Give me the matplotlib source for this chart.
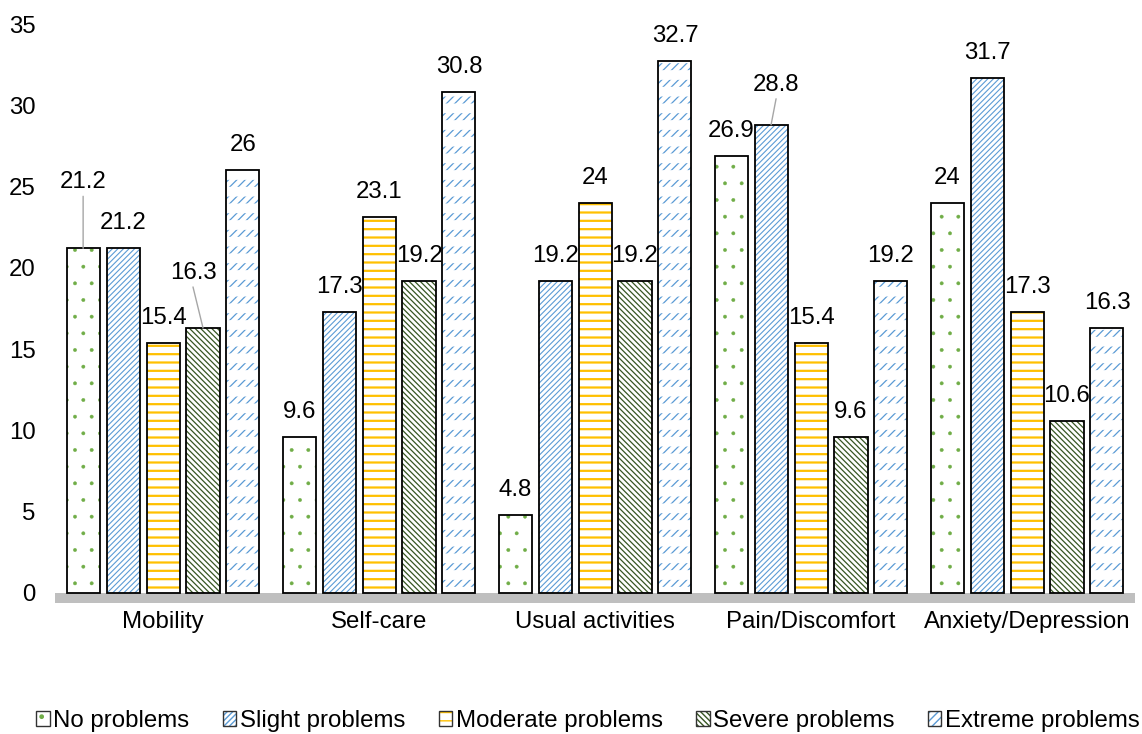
import matplotlib
matplotlib.use("Agg")

import matplotlib.pyplot as plt
import numpy as np
from matplotlib.patches import Patch
from matplotlib.legend_handler import HandlerTuple

plt.rcParams["font.family"] = ["Liberation Sans", "DejaVu Sans"]

categories = ["Mobility", "Self-care", "Usual activities", "Pain/Discomfort", "Anxiety/Depression"]
series_names = ["No problems", "Slight problems", "Moderate problems", "Severe problems", "Extreme problems"]
no_problems = [21.2, 9.6, 4.8, 26.9, 24]
slight_problems = [21.2, 17.3, 19.2, 28.8, 31.7]
moderate_problems = [15.4, 23.1, 24, 15.4, 17.3]
severe_problems = [16.3, 19.2, 19.2, 9.6, 10.6]
extreme_problems = [26, 30.8, 32.7, 19.2, 16.3]
series_values = [no_problems, slight_problems, moderate_problems, severe_problems, extreme_problems]

# hatch style per series: (hatch colour, hatch, hatch linewidth)
styles = [
    ("#70AD47", ".", 0.3),
    ("#5B9BD5", "//////", 0.8),
    ("#FFC000", "--", 1.6),
    ("#375623", "\\" * 6, 0.9),
    ("#5B9BD5", "////", 0.9),
]

# label offsets in pixels (dx, dy of label centre above bar top) where they differ from default
DEFAULT_DY = 25
label_offsets = {
    (0, 0): (0, 66),
    (3, 0): (-10, 55),
    (1, 3): (5, 40),
}
leaders = {(0, 0), (3, 0), (1, 3)}

fig = plt.figure(figsize=(11.42, 7.34), dpi=100)
ax = fig.add_axes([0.0482, 0.1785, 0.9457, 0.7888])

x = np.arange(len(categories))
pitch = 0.185
width = 0.153
FS = 17.3

handles = []
for i, (vals, (col, hatch, hlw)) in enumerate(zip(series_values, styles)):
    xs = x + (i - 2) * pitch
    with plt.rc_context({"hatch.linewidth": hlw}):
        ax.bar(xs, vals, width, facecolor="white", edgecolor=col, hatch=hatch, linewidth=0, zorder=2)
    parts = [Patch(facecolor="white", edgecolor=col, hatch=hatch, linewidth=0)]
    if i == 4:
        # break the diagonals into short dashes with white horizontal bands
        with plt.rc_context({"hatch.linewidth": 7.0}):
            ax.bar(xs, vals, width, facecolor="none", edgecolor="white", hatch="-", linewidth=0, zorder=2.5)
    ax.bar(xs, vals, width, fill=False, edgecolor="black", linewidth=1.3, zorder=3)
    parts.append(Patch(fill=False, edgecolor="#333333", linewidth=1.0))
    handles.append(tuple(parts))

    for j, (xv, v) in enumerate(zip(xs, vals)):
        dx, dy = label_offsets.get((i, j), (0, DEFAULT_DY))
        ax.annotate(f"{v:g}", (xv, v), xytext=(dx * 0.72, dy * 0.72), textcoords="offset points",
                    ha="center", va="center", fontsize=FS, zorder=4)
        if (i, j) in leaders:
            ax.annotate("", (xv, v), xytext=(dx * 0.72, (dy - 14) * 0.72), textcoords="offset points",
                        arrowprops=dict(arrowstyle="-", color="#A6A6A6", lw=1.0, shrinkA=0, shrinkB=0),
                        zorder=4)

ax.axhspan(-0.62, 0, color="#BFBFBF", linewidth=0, zorder=1)

ax.set_xlim(-0.5, 4.5)
ax.set_ylim(-0.62, 35)
ax.set_yticks(range(0, 36, 5))
ax.set_xticks(x)
ax.set_xticklabels(categories)
ax.tick_params(axis="y", length=0, pad=14, labelsize=FS)
ax.tick_params(axis="x", length=0, pad=6, labelsize=FS)
for s in ax.spines.values():
    s.set_visible(False)

fig.legend(handles, series_names, loc="center", bbox_to_anchor=(0.515, 0.0177), ncol=5,
           frameon=False, fontsize=FS, handlelength=0.55, handleheight=0.55,
           handletextpad=0.15, columnspacing=1.4,
           handler_map={tuple: HandlerTuple(ndivide=1)})

fig.savefig("out.png", dpi=100)
